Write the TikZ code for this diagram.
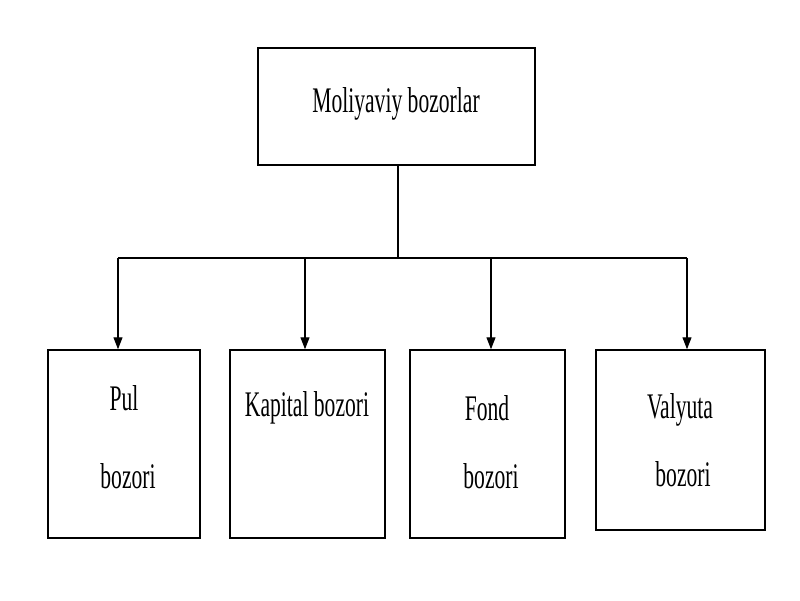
\documentclass[tikz,border=0pt]{standalone}
\usepackage{fontspec}
\setmainfont{Liberation Serif}
\usetikzlibrary{arrows.meta}
\begin{document}
\begin{tikzpicture}[x=1pt,y=-1pt,
  box/.style={draw,line width=1.5pt,minimum width=#1,inner sep=0pt},
  lab/.style={font=\fontsize{36}{40}\selectfont,inner sep=0pt},
  arr/.style={line width=1.2pt,-{Triangle[length=12pt,width=9pt]}}]
\useasboundingbox (0,0) rectangle (800,600);
\newcommand\sq[1]{\scalebox{0.6}[1]{#1}}
\node[box=277pt,minimum height=117pt] (top) at (396.5,106.5) {};
\node[lab] (tl) at (396,104) {\sq{Moliyaviy bozorlar}};
\node[box=152pt,minimum height=188pt] (b1) at (124,444) {};
\node[box=155pt,minimum height=188pt] (b2) at (307.5,444) {};
\node[box=155pt,minimum height=188pt] (b3) at (487.5,444) {};
\node[box=169pt,minimum height=180pt] (b4) at (680.5,440) {};
\node[lab] (l1a) at (124,398) {\sq{Pul}};
\node[lab] (l1b) at (128,476) {\sq{bozori}};
\node[lab] (l2) at (307,408) {\sq{Kapital bozori}};
\node[lab] (l3a) at (487,408) {\sq{Fond}};
\node[lab] (l3b) at (491,476) {\sq{bozori}};
\node[lab] (l4a) at (680,410) {\sq{Valyuta}};
\node[lab] (l4b) at (683,474) {\sq{bozori}};
\coordinate (j) at (398,258);
\draw[line width=1.2pt] (top.south -| j) -- (j);
\draw[line width=1.2pt] (118,258) -- (687,258);
\draw[arr] (118,258) -- (b1.north -| 118,0);
\draw[arr] (305,258) -- (b2.north -| 305,0);
\draw[arr] (491,258) -- (b3.north -| 491,0);
\draw[arr] (687,258) -- (b4.north -| 687,0);
\end{tikzpicture}
\end{document}
